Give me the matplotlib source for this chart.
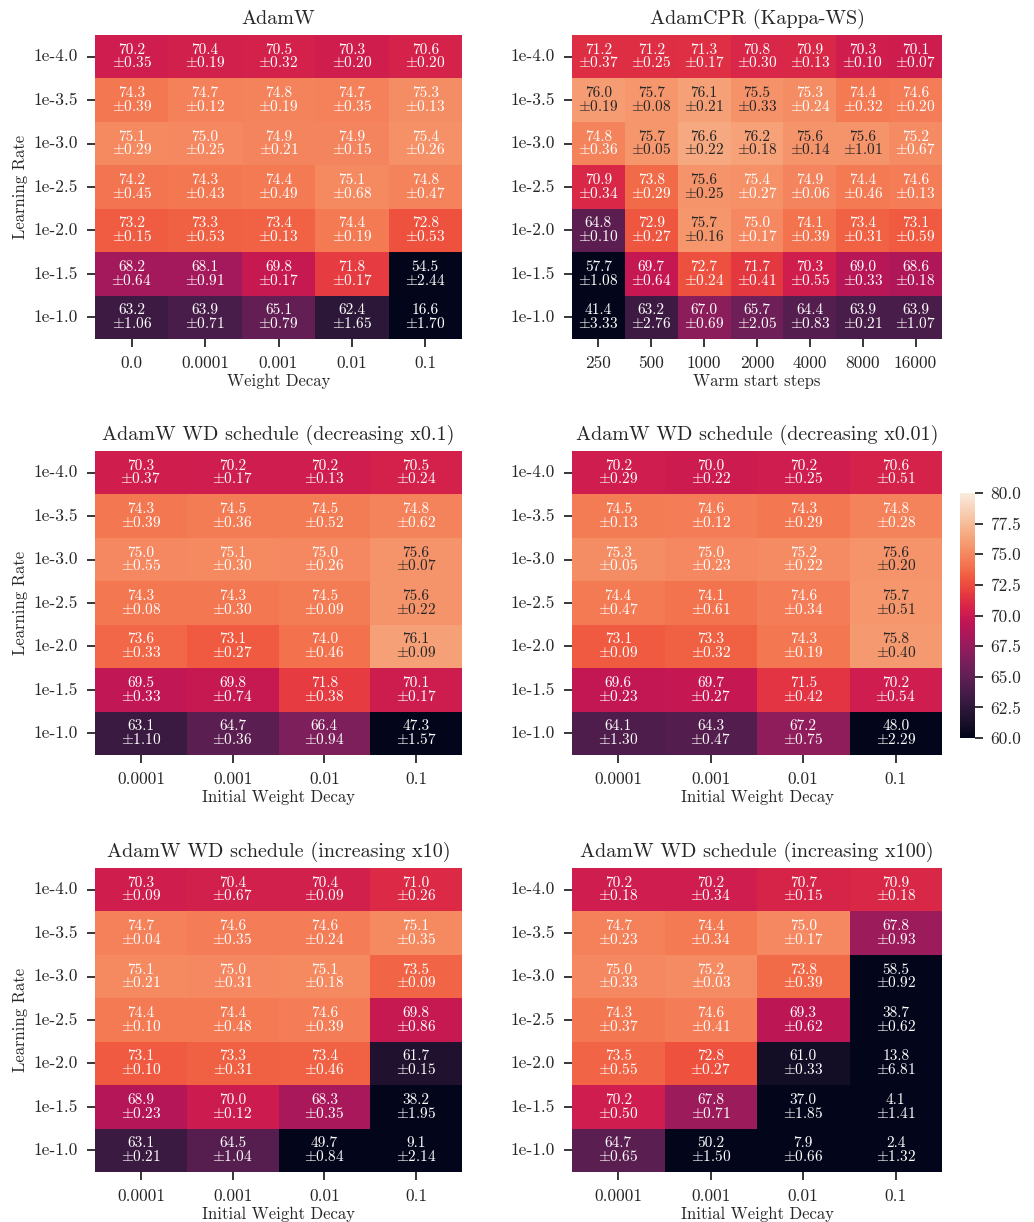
import numpy as np
import matplotlib
matplotlib.use("Agg")
import matplotlib.pyplot as plt
import seaborn as sns

sns.set_theme(style="ticks")
plt.rcParams['font.family'] = ['cmr10', 'DejaVu Serif']
plt.rcParams['mathtext.fontset'] = 'cm'
plt.rcParams['axes.formatter.use_mathtext'] = True
plt.rcParams['axes.unicode_minus'] = False

lr_labels = ["1e-4.0", "1e-3.5", "1e-3.0", "1e-2.5", "1e-2.0", "1e-1.5", "1e-1.0"]

# Panel 1: AdamW
adamw_x = ["0.0", "0.0001", "0.001", "0.01", "0.1"]
adamw_mean = [
    [70.2, 70.4, 70.5, 70.3, 70.6],
    [74.3, 74.7, 74.8, 74.7, 75.3],
    [75.1, 75.0, 74.9, 74.9, 75.4],
    [74.2, 74.3, 74.4, 75.1, 74.8],
    [73.2, 73.3, 73.4, 74.4, 72.8],
    [68.2, 68.1, 69.8, 71.8, 54.5],
    [63.2, 63.9, 65.1, 62.4, 16.6],
]
adamw_std = [
    [0.35, 0.19, 0.32, 0.20, 0.20],
    [0.39, 0.12, 0.19, 0.35, 0.13],
    [0.29, 0.25, 0.21, 0.15, 0.26],
    [0.45, 0.43, 0.49, 0.68, 0.47],
    [0.15, 0.53, 0.13, 0.19, 0.53],
    [0.64, 0.91, 0.17, 0.17, 2.44],
    [1.06, 0.71, 0.79, 1.65, 1.70],
]

# Panel 2: AdamCPR (Kappa-WS)
cpr_x = ["250", "500", "1000", "2000", "4000", "8000", "16000"]
cpr_mean = [
    [71.2, 71.2, 71.3, 70.8, 70.9, 70.3, 70.1],
    [76.0, 75.7, 76.1, 75.5, 75.3, 74.4, 74.6],
    [74.8, 75.7, 76.6, 76.2, 75.6, 75.6, 75.2],
    [70.9, 73.8, 75.6, 75.4, 74.9, 74.4, 74.6],
    [64.8, 72.9, 75.7, 75.0, 74.1, 73.4, 73.1],
    [57.7, 69.7, 72.7, 71.7, 70.3, 69.0, 68.6],
    [41.4, 63.2, 67.0, 65.7, 64.4, 63.9, 63.9],
]
cpr_std = [
    [0.37, 0.25, 0.17, 0.30, 0.13, 0.10, 0.07],
    [0.19, 0.08, 0.21, 0.33, 0.24, 0.32, 0.20],
    [0.36, 0.05, 0.22, 0.18, 0.14, 1.01, 0.67],
    [0.34, 0.29, 0.25, 0.27, 0.06, 0.46, 0.13],
    [0.10, 0.27, 0.16, 0.17, 0.39, 0.31, 0.59],
    [1.08, 0.64, 0.24, 0.41, 0.55, 0.33, 0.18],
    [3.33, 2.76, 0.69, 2.05, 0.83, 0.21, 1.07],
]

wd_x = ["0.0001", "0.001", "0.01", "0.1"]

# Panel 3: decreasing x0.1
dec01_mean = [
    [70.3, 70.2, 70.2, 70.5],
    [74.3, 74.5, 74.5, 74.8],
    [75.0, 75.1, 75.0, 75.6],
    [74.3, 74.3, 74.5, 75.6],
    [73.6, 73.1, 74.0, 76.1],
    [69.5, 69.8, 71.8, 70.1],
    [63.1, 64.7, 66.4, 47.3],
]
dec01_std = [
    [0.37, 0.17, 0.13, 0.24],
    [0.39, 0.36, 0.52, 0.62],
    [0.55, 0.30, 0.26, 0.07],
    [0.08, 0.30, 0.09, 0.22],
    [0.33, 0.27, 0.46, 0.09],
    [0.33, 0.74, 0.38, 0.17],
    [1.10, 0.36, 0.94, 1.57],
]

# Panel 4: decreasing x0.01
dec001_mean = [
    [70.2, 70.0, 70.2, 70.6],
    [74.5, 74.6, 74.3, 74.8],
    [75.3, 75.0, 75.2, 75.6],
    [74.4, 74.1, 74.6, 75.7],
    [73.1, 73.3, 74.3, 75.8],
    [69.6, 69.7, 71.5, 70.2],
    [64.1, 64.3, 67.2, 48.0],
]
dec001_std = [
    [0.29, 0.22, 0.25, 0.51],
    [0.13, 0.12, 0.29, 0.28],
    [0.05, 0.23, 0.22, 0.20],
    [0.47, 0.61, 0.34, 0.51],
    [0.09, 0.32, 0.19, 0.40],
    [0.23, 0.27, 0.42, 0.54],
    [1.30, 0.47, 0.75, 2.29],
]

# Panel 5: increasing x10
inc10_mean = [
    [70.3, 70.4, 70.4, 71.0],
    [74.7, 74.6, 74.6, 75.1],
    [75.1, 75.0, 75.1, 73.5],
    [74.4, 74.4, 74.6, 69.8],
    [73.1, 73.3, 73.4, 61.7],
    [68.9, 70.0, 68.3, 38.2],
    [63.1, 64.5, 49.7, 9.1],
]
inc10_std = [
    [0.09, 0.67, 0.09, 0.26],
    [0.04, 0.35, 0.24, 0.35],
    [0.21, 0.31, 0.18, 0.09],
    [0.10, 0.48, 0.39, 0.86],
    [0.10, 0.31, 0.46, 0.15],
    [0.23, 0.12, 0.35, 1.95],
    [0.21, 1.04, 0.84, 2.14],
]

# Panel 6: increasing x100
inc100_mean = [
    [70.2, 70.2, 70.7, 70.9],
    [74.7, 74.4, 75.0, 67.8],
    [75.0, 75.2, 73.8, 58.5],
    [74.3, 74.6, 69.3, 38.7],
    [73.5, 72.8, 61.0, 13.8],
    [70.2, 67.8, 37.0, 4.1],
    [64.7, 50.2, 7.9, 2.4],
]
inc100_std = [
    [0.18, 0.34, 0.15, 0.18],
    [0.23, 0.34, 0.17, 0.93],
    [0.33, 0.03, 0.39, 0.92],
    [0.37, 0.41, 0.62, 0.62],
    [0.55, 0.27, 0.33, 6.81],
    [0.50, 0.71, 1.85, 1.41],
    [0.65, 1.50, 0.66, 1.32],
]

panels = [
    ("AdamW", adamw_x, adamw_mean, adamw_std, "Weight Decay"),
    ("AdamCPR (Kappa-WS)", cpr_x, cpr_mean, cpr_std, "Warm start steps"),
    ("AdamW WD schedule (decreasing x0.1)", wd_x, dec01_mean, dec01_std, "Initial Weight Decay"),
    ("AdamW WD schedule (decreasing x0.01)", wd_x, dec001_mean, dec001_std, "Initial Weight Decay"),
    ("AdamW WD schedule (increasing x10)", wd_x, inc10_mean, inc10_std, "Initial Weight Decay"),
    ("AdamW WD schedule (increasing x100)", wd_x, inc100_mean, inc100_std, "Initial Weight Decay"),
]

W, H = 1034, 1222
fig = plt.figure(figsize=(W / 100, H / 100), dpi=100)

def rect(x0, y0, x1, y1):
    return [x0 / W, 1 - y1 / H, (x1 - x0) / W, (y1 - y0) / H]

boxes = [
    rect(95, 35, 462, 339), rect(572, 35, 942, 339),
    rect(95, 451, 462, 755), rect(572, 451, 942, 755),
    rect(95, 868, 462, 1172), rect(572, 868, 942, 1172),
]
cax = fig.add_axes(rect(960, 493, 975, 738))

for i, ((title, xl, mean, std, xlabel), box) in enumerate(zip(panels, boxes)):
    ax = fig.add_axes(box)
    m = np.array(mean)
    s = np.array(std)
    annot = np.array([[f"{m[r, c]:.1f}\n$\\pm$" + f"{s[r, c]:.2f}" for c in range(m.shape[1])]
                      for r in range(m.shape[0])])
    sns.heatmap(m, ax=ax, cmap="rocket", vmin=60, vmax=80, annot=annot, fmt="",
                annot_kws={"fontsize": 11, "linespacing": 0.9},
                cbar=(i == 3), cbar_ax=cax if i == 3 else None,
                xticklabels=xl, yticklabels=lr_labels)
    ax.set_title(title, fontsize=14.5, pad=8)
    ax.set_xlabel(xlabel, fontsize=12, labelpad=2)
    if i % 2 == 0:
        ax.set_ylabel("Learning Rate", fontsize=12, labelpad=4)
    ax.tick_params(axis="both", labelsize=12.5, length=6, width=1.3, pad=6)
    ax.set_yticklabels(lr_labels, rotation=0)
    ax.set_xticklabels(xl, rotation=0)

cax.tick_params(labelsize=12.5, length=6, width=1.3, pad=5)
cax.set_yticks([60, 62.5, 65, 67.5, 70, 72.5, 75, 77.5, 80])
cax.set_yticklabels(["60.0", "62.5", "65.0", "67.5", "70.0", "72.5", "75.0", "77.5", "80.0"])

fig.savefig("out.png", dpi=100)
